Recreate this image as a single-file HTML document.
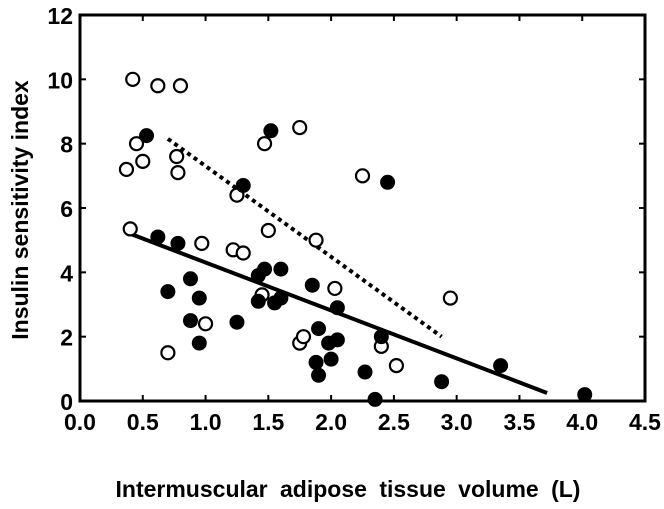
<!DOCTYPE html>
<html><head><meta charset="utf-8"><style>
body{margin:0;background:#fff}
text{font-family:"Liberation Sans",Arial,sans-serif;font-weight:bold;fill:#000}
</style></head><body>
<svg id="chart" width="664" height="504" xmlns="http://www.w3.org/2000/svg"></svg>
<script>
const xTicks=[0,0.5,1,1.5,2,2.5,3,3.5,4,4.5];
const xTickLabels=["0.0","0.5","1.0","1.5","2.0","2.5","3.0","3.5","4.0","4.5"];
const yTicks=[0,2,4,6,8,10,12];
const yTickLabels=["0","2","4","6","8","10","12"];
const openX=[0.37,0.42,0.45,0.5,0.62,0.77,0.78,0.8,0.4,0.7,0.97,1.0,1.22,1.25,1.3,1.45,1.47,1.5,1.75,1.75,1.78,2.03,1.88,2.25,2.4,2.52,2.95];
const openY=[7.2,10,8,7.45,9.8,7.6,7.1,9.8,5.35,1.5,4.9,2.4,4.7,6.4,4.6,3.3,8.0,5.3,8.5,1.8,2.0,3.5,5.0,7.0,1.7,1.1,3.2];
const filledX=[0.53,0.62,0.7,0.78,0.88,0.88,0.95,0.95,1.25,1.3,1.42,1.42,1.47,1.52,1.55,1.6,1.6,1.85,1.88,1.9,1.9,1.98,2.0,2.05,2.05,2.27,2.35,2.4,2.45,2.88,3.35,4.02];
const filledY=[8.25,5.1,3.4,4.9,3.8,2.5,3.2,1.8,2.45,6.7,3.1,3.9,4.1,8.4,3.05,3.2,4.1,3.6,1.2,2.25,0.8,1.8,1.3,1.9,2.9,0.9,0.05,2.0,6.8,0.6,1.1,0.2];
const solidLineX=[0.4,3.72], solidLineY=[5.2,0.25];
const dottedLineX=[0.7,2.88], dottedLineY=[8.15,2.0];

const L=80,R=645,T=15,B=401;
const sx=v=>L+(v-0)/(4.5-0)*(R-L);
const sy=v=>B-(v-0)/(12-0)*(B-T);
const svg=document.getElementById('chart');
const NS="http://www.w3.org/2000/svg";
function mk(tag,attrs){const e=document.createElementNS(NS,tag);for(const k in attrs)e.setAttribute(k,attrs[k]);svg.appendChild(e);return e;}

let frame=mk('rect',{x:L,y:T,width:R-L,height:B-T,fill:'none',stroke:'#000','stroke-width':3});



xTicks.forEach((v,i)=>{
  const x=sx(v);
  let t=mk('line',{x1:x,y1:B,x2:x,y2:B-6,stroke:'#000','stroke-width':2});
  
  
  let t2=mk('line',{x1:x,y1:T,x2:x,y2:T+6,stroke:'#000','stroke-width':2});
  
  
  let l=mk('text',{x:x,y:B+29,'text-anchor':'middle','font-size':23});
  l.textContent=xTickLabels[i];
  
  
});
yTicks.forEach((v,i)=>{
  const y=sy(v);
  let t=mk('line',{x1:L,y1:y,x2:L+6,y2:y,stroke:'#000','stroke-width':2});
  
  
  let t2=mk('line',{x1:R,y1:y,x2:R-6,y2:y,stroke:'#000','stroke-width':2});
  
  
  let l=mk('text',{x:L-7,y:y+9,'text-anchor':'end','font-size':23});
  l.textContent=yTickLabels[i];
  
  
});

let sl=mk('line',{x1:sx(solidLineX[0]),y1:sy(solidLineY[0]),x2:sx(solidLineX[1]),y2:sy(solidLineY[1]),stroke:'#000','stroke-width':4});


let dl=mk('line',{x1:sx(dottedLineX[0]),y1:sy(dottedLineY[0]),x2:sx(dottedLineX[1]),y2:sy(dottedLineY[1]),stroke:'#000','stroke-width':4,'stroke-dasharray':'4 4'});



openX.forEach((v,i)=>{
  let c=mk('circle',{cx:sx(v),cy:sy(openY[i]),r:6.5,fill:'#fff',stroke:'#000','stroke-width':2.2});
  
  
});
filledX.forEach((v,i)=>{
  let c=mk('circle',{cx:sx(v),cy:sy(filledY[i]),r:7.5,fill:'#000'});
  
  
});

let xt=mk('text',{x:348,y:497,'text-anchor':'middle','font-size':23,'word-spacing':'6'});
xt.textContent='Intermuscular adipose tissue volume (L)';


let yt=mk('text',{x:0,y:0,'text-anchor':'middle','font-size':23,transform:'translate(28,210) rotate(-90)'});
yt.textContent='Insulin sensitivity index';


</script>
</body></html>
